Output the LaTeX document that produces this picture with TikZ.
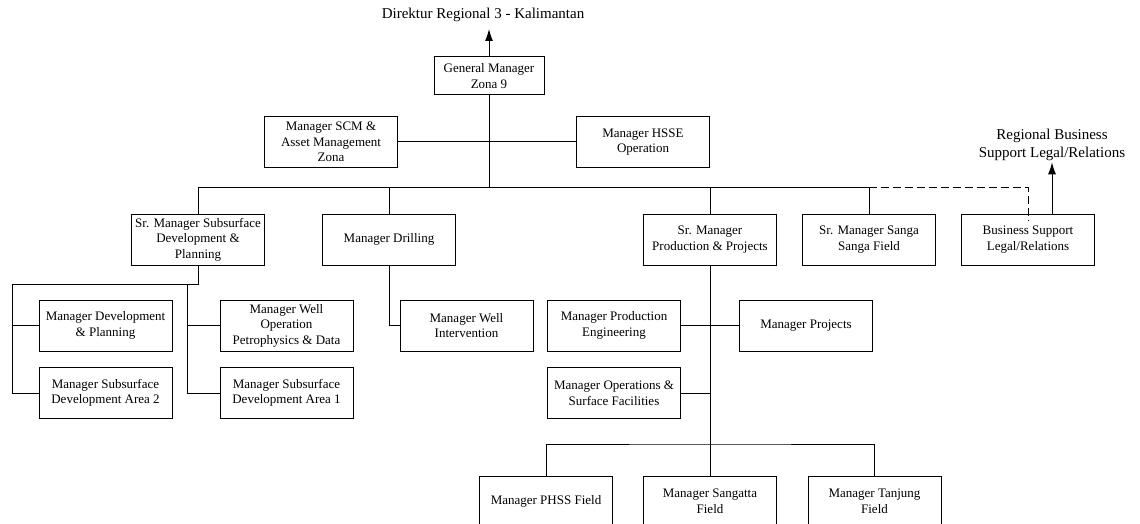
\documentclass[tikz,border=0pt]{standalone}
\usepackage{fontspec}
\setmainfont{Liberation Serif}
\usetikzlibrary{arrows.meta}

\begin{document}
\begin{tikzpicture}[x=1pt,y=-1pt,line width=1pt,
    arrow/.style={->, >={Latex[length=12pt,width=8pt]}},
    unit/.style={draw, align=center, inner sep=2pt, minimum width=133pt, minimum height=51pt, font=\fontsize{13}{15.6}\selectfont},
    label/.style={align=center, inner sep=1pt, font=\fontsize{15}{18}\selectfont}]

\useasboundingbox (0,0) rectangle (1140,524);

\node [label] (dir) at (483,15) {Direktur Regional 3 - Kalimantan};
\node [unit, minimum width=110pt, minimum height=38pt] (gm) at (489,76) {General Manager\\Zona 9};
\node [unit] (scm) at (331,142) {Manager SCM \&\\Asset Management\\Zona};
\node [unit] (hsse) at (643,142) {Manager HSSE\\Operation};
\node [label] (rbs) at (1052,145) {Regional Business\\Support Legal/Relations};

\node [unit] (ssd) at (198,239.5) {Sr. Manager Subsurface\\Development \&\\Planning};
\node [unit] (drl) at (389,239.5) {Manager Drilling};
\node [unit] (spp) at (710,239.5) {Sr. Manager\\Production \& Projects};
\node [unit] (ssg) at (869,239.5) {Sr. Manager Sanga\\Sanga Field};
\node [unit] (bsl) at (1028,239.5) {Business Support\\Legal/Relations};

\node [unit] (dpl) at (105.5,325.5) {Manager Development\\\& Planning};
\node [unit] (sa2) at (105.5,393) {Manager Subsurface\\Development Area 2};
\node [unit] (wop) at (286.5,325.5) {Manager Well\\Operation\\Petrophysics \& Data};
\node [unit] (sa1) at (286.5,393) {Manager Subsurface\\Development Area 1};
\node [unit] (wi) at (466.5,325.5) {Manager Well\\Intervention};
\node [unit] (pe) at (614,325.5) {Manager Production\\Engineering};
\node [unit] (prj) at (806,325.5) {Manager Projects};
\node [unit] (ops) at (614,393) {Manager Operations \&\\Surface Facilities};

\node [unit] (phss) at (546,501.5) {Manager PHSS Field};
\node [unit] (sgt) at (710,501.5) {Manager Sangatta\\Field};
\node [unit] (tnj) at (874.5,501.5) {Manager Tanjung\\Field};

\coordinate (bus) at (489,187);
\coordinate (sl) at (12,284);
\coordinate (sr) at (187,284);
\coordinate (fbus) at (710,444);

\draw [arrow] (gm.north) -- (gm.north |- 0,29);
\draw (gm.south) -- (bus);
\draw (scm.east) -- (hsse.west);
\draw (ssd.north) |- (ssg.north |- bus) -- (ssg.north);
\draw (drl.north) -- (drl.north |- bus);
\draw (spp.north) -- (spp.north |- bus);
\draw [dash pattern=on 8pt off 4pt] (ssg.north |- bus) -| ([yshift=-7pt]bsl.north);
\draw [arrow] (bsl.north -| rbs) -- (rbs.south);

\draw (ssd.south) |- (sl) |- (sa2.west);
\draw (sl |- dpl.west) -- (dpl.west);
\draw (sr) |- (sa1.west);
\draw (sr |- wop.west) -- (wop.west);
\draw (drl.south) |- (wi.west);

\draw (spp.south) -- (fbus);
\draw (pe.east) -- (prj.west);
\draw (ops.east) -- (ops.east -| fbus);
\draw (phss.north) |- (fbus) -| (tnj.north);
\draw (fbus) -- (sgt.north);
\end{tikzpicture}
\end{document}
